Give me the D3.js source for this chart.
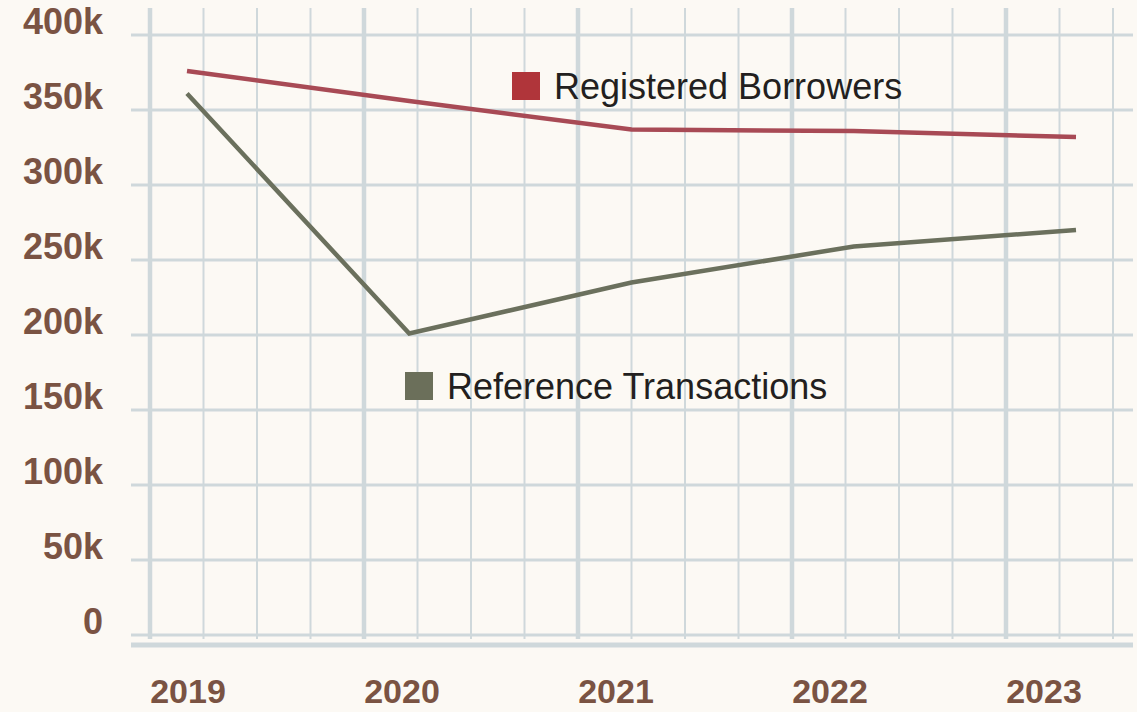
<!DOCTYPE html>
<html>
<head>
<meta charset="utf-8">
<script src="https://cdn.jsdelivr.net/npm/d3@7"></script>
<style>
  body { margin: 0; background: #fcf9f4; }
  svg { display: block; background: #fcf9f4; }
  .tick-label { font-family: "Liberation Sans", Arial, sans-serif; font-weight: bold; font-size: 36px; fill: #7a5343; }
  .x-label { font-size: 34px; }
  .legend-label { font-family: "Liberation Sans", Arial, sans-serif; font-size: 36px; fill: #231f20; }
</style>
</head>
<body>
<svg id="chart" width="1137" height="712"></svg>
<script>
var years = [2019, 2020, 2021, 2022, 2023];
var borrowers = [376000, 356000, 337000, 336000, 332000];
var transactions = [361000, 201000, 235000, 259000, 270000];
var yTicks = [0, 50000, 100000, 150000, 200000, 250000, 300000, 350000, 400000];
var seriesNames = ["Registered Borrowers", "Reference Transactions"];
var colors = {line: ["#a84a55", "#6b705d"], key: ["#b0353a", "#6b6f5a"]};

var svg = d3.select("#chart");

var y = d3.scaleLinear().domain([0, 400000]).range([635, 35]);
var x = d3.scalePoint().domain(years).range([187, 1076]);
// grid scale: one thick line per year, thin lines each quarter
var xg = d3.scaleLinear().domain([2019, 2023]).range([150, 1006]);
var gridTicks = d3.range(0, 19).map(function(i) { return 2019 + i * 0.25; });

var grid = svg.append("g");

grid.selectAll(".hgrid")
    .data(yTicks)
  .enter().append("line")
    .attr("x1", 131).attr("x2", 1133)
    .attr("y1", function(d) { return y(d); })
    .attr("y2", function(d) { return y(d); })
    .attr("stroke", "#cfd8db")
    .attr("stroke-width", 3);

grid.selectAll(".vgrid")
    .data(gridTicks)
  .enter().append("line")
    .attr("x1", function(d) { return xg(d); })
    .attr("x2", function(d) { return xg(d); })
    .attr("y1", 8).attr("y2", 639)
    .attr("stroke", "#cfd8db")
    .attr("stroke-width", function(d) { return d % 1 === 0 ? 4.5 : 2; });

// bottom axis rule
svg.append("line")
    .attr("x1", 131).attr("x2", 1133)
    .attr("y1", 645).attr("y2", 645)
    .attr("stroke", "#cfd8db")
    .attr("stroke-width", 5);

svg.append("g").selectAll("text")
    .data(yTicks)
  .enter().append("text")
    .attr("class", "tick-label")
    .attr("text-anchor", "end")
    .attr("x", 103)
    .attr("y", function(d) { return y(d) - 1; })
    .text(function(d) { return d === 0 ? "0" : (d / 1000) + "k"; });

svg.append("g").selectAll("text")
    .data(years)
  .enter().append("text")
    .attr("class", "tick-label x-label")
    .attr("text-anchor", "middle")
    .attr("x", function(d) { return xg(d) + 38; })
    .attr("y", 703)
    .text(function(d) { return d; });

var line = d3.line()
    .x(function(d, i) { return x(years[i]); })
    .y(function(d) { return y(d); });

[borrowers, transactions].forEach(function(s, i) {
  svg.append("path")
      .datum(s)
      .attr("fill", "none")
      .attr("stroke", colors.line[i])
      .attr("stroke-width", 4.5)
      .attr("d", line);
});

var legendPos = [{x: 512, y: 72}, {x: 405, y: 372}];
seriesNames.forEach(function(name, i) {
  var g = svg.append("g").attr("transform", "translate(" + legendPos[i].x + "," + legendPos[i].y + ")");
  g.append("rect").attr("width", 28).attr("height", 28).attr("fill", colors.key[i]);
  g.append("text").attr("class", "legend-label").attr("x", 42).attr("y", 27).text(name);
});
</script>
</body>
</html>
